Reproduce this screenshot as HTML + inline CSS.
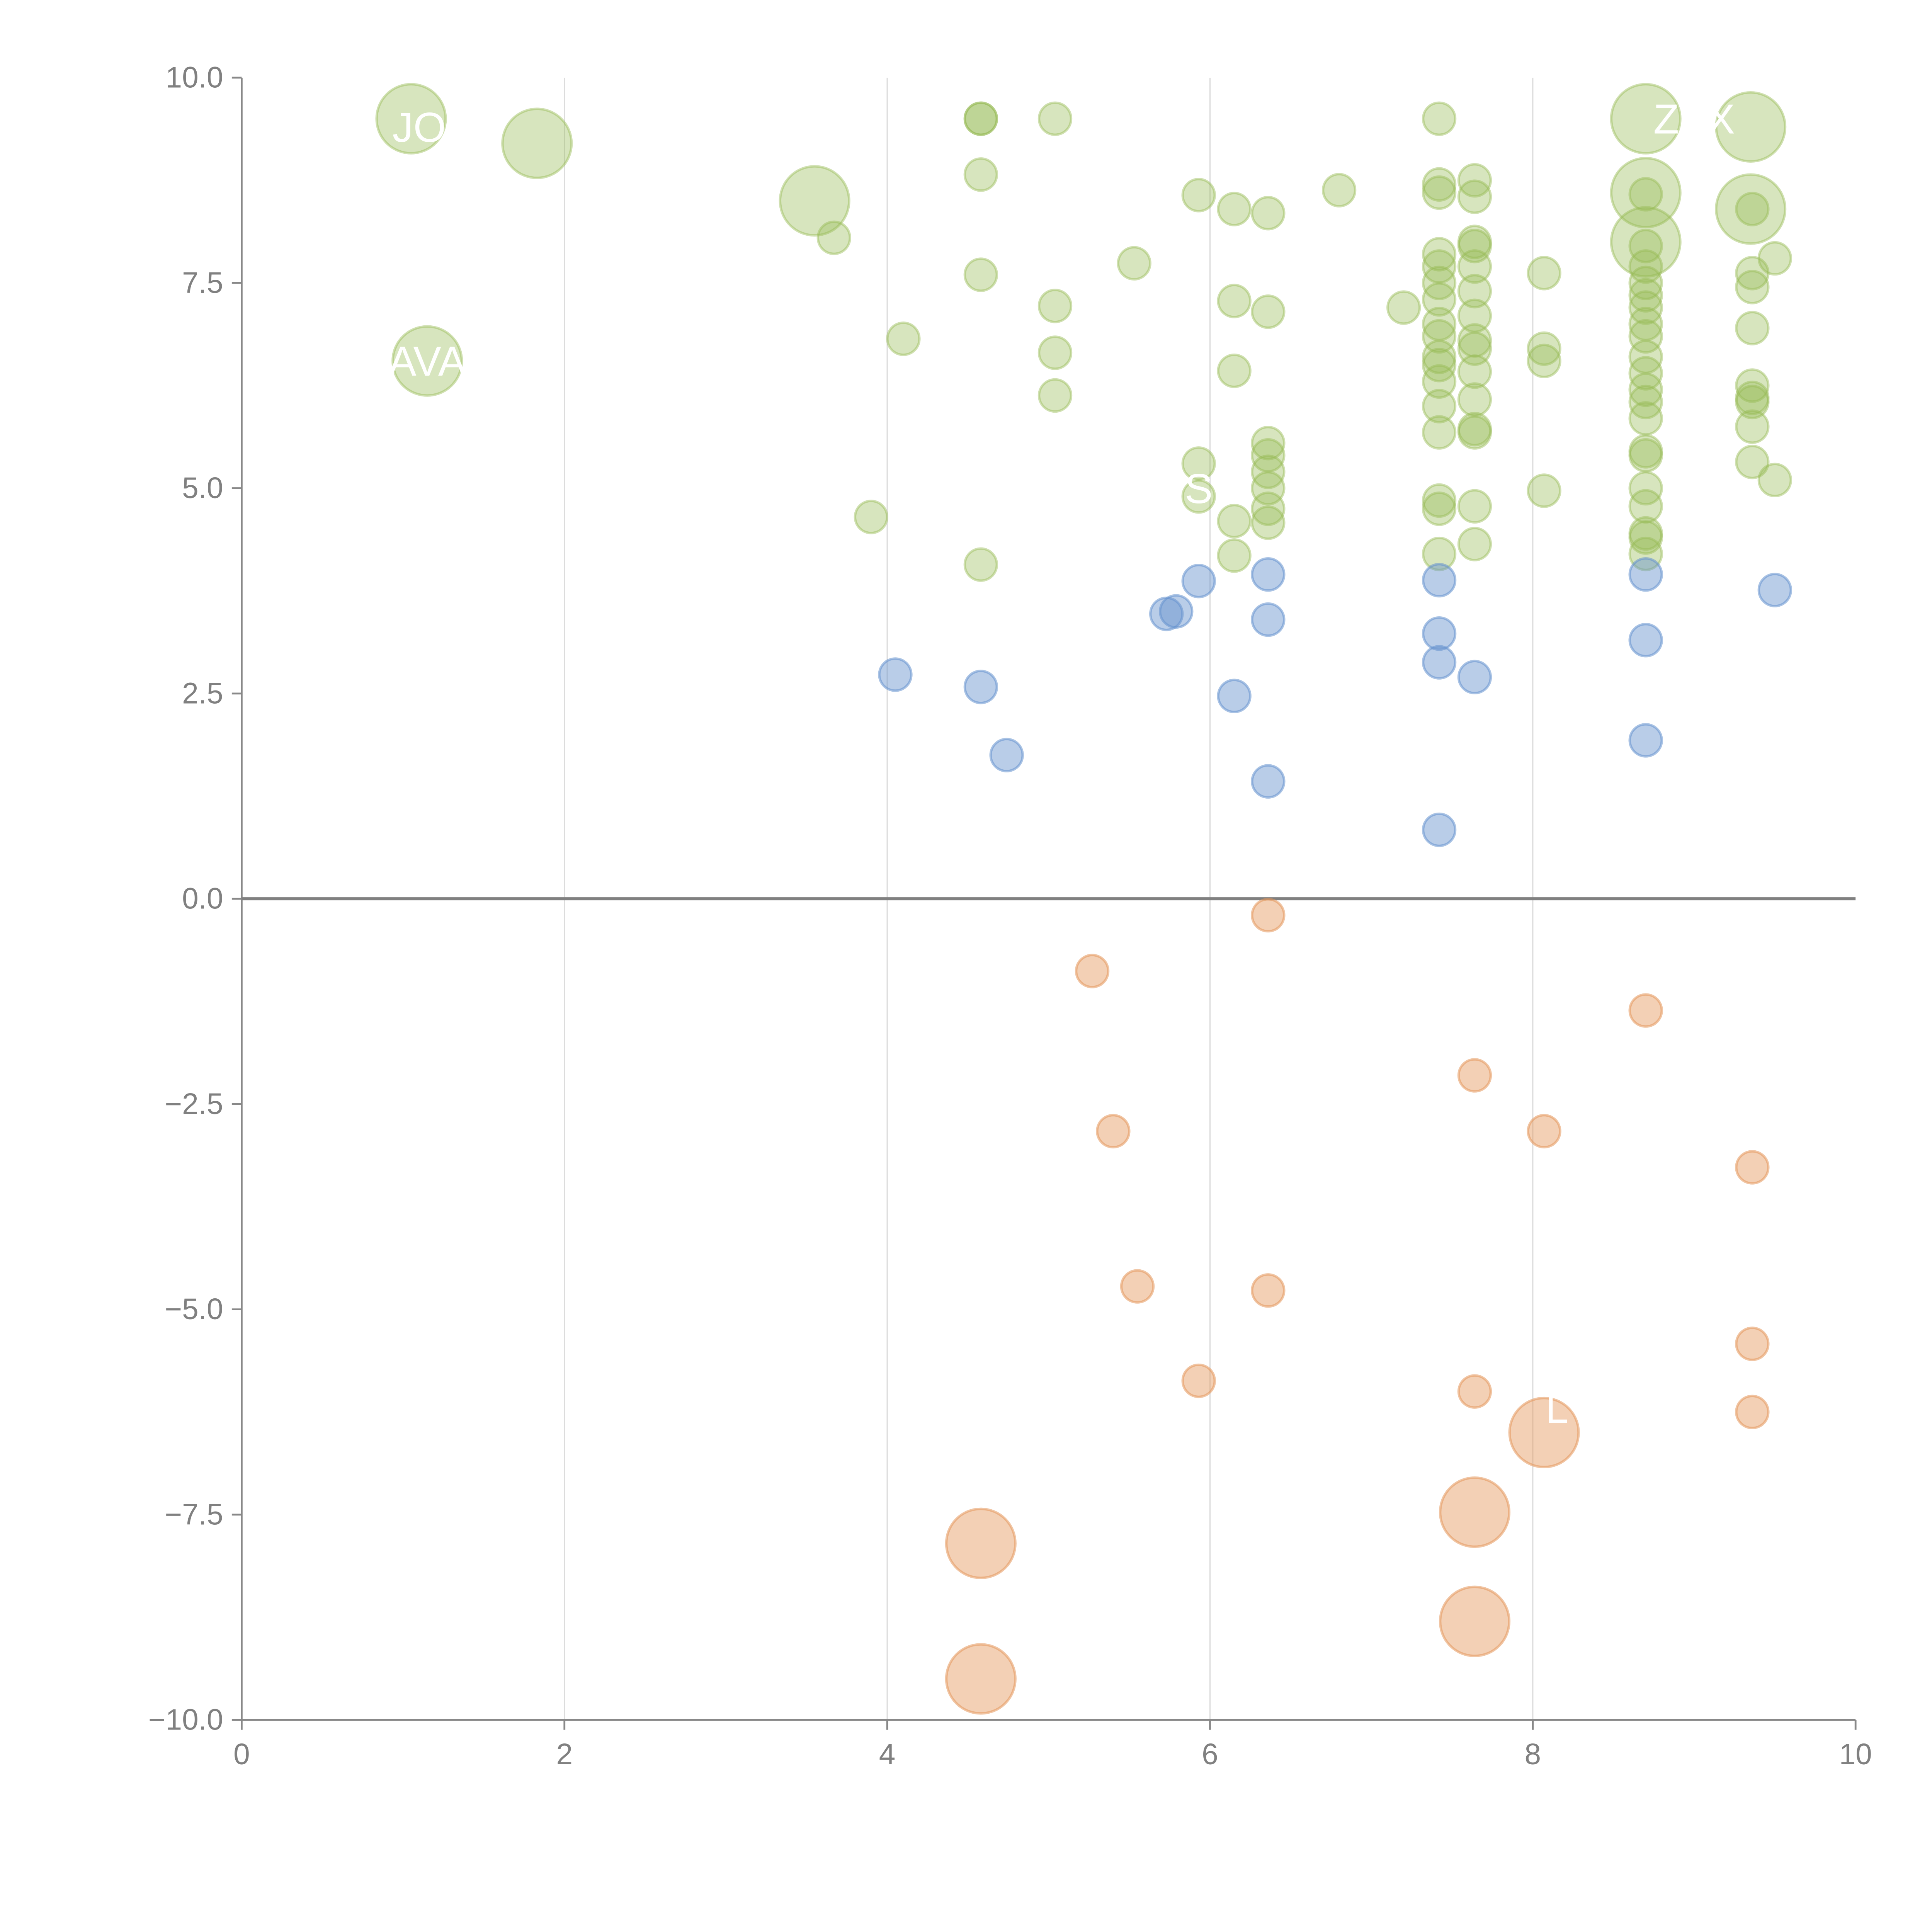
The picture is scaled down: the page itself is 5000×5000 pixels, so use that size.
<!DOCTYPE html>
<html><head><meta charset="utf-8"><style>html,body{margin:0;padding:0;background:#fff}svg{display:block}</style></head>
<body>
<svg id="chart" width="5000" height="5000" viewBox="0 0 1567 1567" xmlns="http://www.w3.org/2000/svg" font-family="'Liberation Sans', sans-serif">
<g id="grid"></g>
<g id="axes"></g>
<g id="marks"></g>
</svg>
<script>
const xTicks = [0,2,4,6,8,10];
const yTicks = [-10,-7.5,-5,-2.5,0,2.5,5,7.5,10];
const greenX = [1.05,1.83,1.15,3.55,8.7,9.35,8.7,9.35,8.7,3.67,3.9,4.1,4.58,4.58,4.58,4.58,4.58,5.04,5.04,5.04,5.04,5.53,5.93,5.93,5.93,6.15,6.15,6.15,6.15,6.15,6.36,6.36,6.36,6.36,6.36,6.36,6.36,6.36,6.8,7.2,7.42,7.42,7.42,7.42,7.42,7.42,7.42,7.42,7.42,7.42,7.42,7.42,7.42,7.42,7.42,7.42,7.42,7.64,7.64,7.64,7.64,7.64,7.64,7.64,7.64,7.64,7.64,7.64,7.64,7.64,7.64,7.64,8.07,8.07,8.07,8.07,8.7,8.7,8.7,8.7,8.7,8.7,8.7,8.7,8.7,8.7,8.7,8.7,8.7,8.7,8.7,8.7,8.7,8.7,8.7,8.7,9.36,9.36,9.36,9.36,9.36,9.36,9.36,9.36,9.36,9.5,9.5];
const greenY = [9.5,9.2,6.55,8.5,9.5,9.4,8.6,8.4,8.0,8.05,4.65,6.82,9.5,9.5,8.82,7.6,4.07,9.5,7.22,6.65,6.13,7.74,8.57,5.3,4.9,8.4,7.28,6.43,4.6,4.18,8.35,7.15,5.55,5.4,5.2,5.0,4.75,4.58,8.63,7.2,9.5,8.7,8.6,7.85,7.7,7.5,7.3,7.0,6.85,6.6,6.5,6.3,6.0,5.68,4.85,4.75,4.2,8.75,8.55,8.0,7.95,7.7,7.4,7.1,6.8,6.7,6.42,6.08,5.72,5.68,4.78,4.32,7.62,6.7,6.55,4.97,8.58,7.95,7.7,7.5,7.35,7.2,7.0,6.85,6.6,6.4,6.2,6.05,5.85,5.45,5.4,5.0,4.78,4.45,4.4,4.2,8.4,7.62,7.45,6.95,6.25,6.1,6.05,5.75,5.32,7.8,5.1];
const greenBig = 9;
const blueX = [4.05,4.58,4.74,5.73,5.79,5.93,6.15,6.36,6.36,6.36,7.42,7.42,7.42,7.42,7.64,8.7,8.7,8.7,9.5];
const blueY = [2.73,2.58,1.75,3.47,3.5,3.87,2.47,3.95,3.4,1.43,3.88,3.23,2.88,0.84,2.7,3.95,3.15,1.93,3.76];
const orangeX = [8.07,7.64,4.58,7.64,4.58,6.36,5.27,8.7,7.64,5.4,8.07,9.36,5.55,6.36,9.36,5.93,7.64,9.36];
const orangeY = [-6.5,-7.47,-7.85,-8.8,-9.5,-0.2,-0.88,-1.36,-2.15,-2.83,-2.83,-3.27,-4.72,-4.77,-5.42,-5.87,-6.0,-6.25];
const orangeBig = 5;

const NS = "http://www.w3.org/2000/svg";
const X0=196, X1=1505, Y0=1395, Y1=63;
const sx = v => X0 + (v-0)/(10-0)*(X1-X0);
const sy = v => Y0 - (v+10)/20*(Y0-Y1);
function mk(tag, attrs, parent){const e=document.createElementNS(NS,tag);for(const k in attrs)e.setAttribute(k,attrs[k]);parent.appendChild(e);return e;}
const grid=document.getElementById('grid'), axes=document.getElementById('axes'), marks=document.getElementById('marks');

xTicks.forEach(t=>{
  if(t>0&&t<10){const g=mk('line',{x1:sx(t),x2:sx(t),y1:Y1,y2:Y0,stroke:'#dcdcdc','stroke-width':1},grid);
  
  }
  const tk=mk('line',{x1:sx(t),x2:sx(t),y1:Y0,y2:Y0+8,stroke:'#888','stroke-width':1.5},axes);
  
  
  const tx=mk('text',{x:sx(t),y:Y0+36,'text-anchor':'middle','font-size':24,fill:'#808080'},axes);
  
  
  tx.textContent=t;
});
yTicks.forEach(t=>{
  const tk=mk('line',{x1:X0-8,x2:X0,y1:sy(t),y2:sy(t),stroke:'#888','stroke-width':1.5},axes);
  
  
  const tx=mk('text',{x:X0-15,y:sy(t)+8,'text-anchor':'end','font-size':24,fill:'#808080'},axes);
  
  
  tx.textContent=t.toFixed(1).replace('-','\u2212');
});
const ya=mk('line',{x1:X0,x2:X0,y1:Y1,y2:Y0,stroke:'#888','stroke-width':1.5},axes);


const xa=mk('line',{x1:X0,x2:X1,y1:Y0,y2:Y0,stroke:'#888','stroke-width':1.5},axes);


const zl=mk('line',{x1:X0,x2:X1,y1:sy(0),y2:sy(0),stroke:'#808080','stroke-width':2.5},axes);



function series(xs,ys,big,fill,stroke,name){
  xs.forEach((x,i)=>{
    const c=mk('circle',{cx:sx(x),cy:sy(ys[i]),r:i<big?28:13,fill:fill,stroke:stroke,'stroke-width':2},marks);
    
    
  });
}
series(greenX,greenY,greenBig,'rgba(151,187,84,0.38)','rgba(151,187,84,0.45)','green-bubble');
series(blueX,blueY,0,'rgba(100,145,205,0.45)','rgba(100,145,205,0.55)','blue-bubble');
series(orangeX,orangeY,orangeBig,'rgba(228,150,90,0.45)','rgba(228,150,90,0.55)','orange-bubble');

const labels=[["JO",1.1,9.4],["AVA",1.15,6.55],["S",5.93,5.0],["ZAX",9.0,9.5],["L",8.15,-6.2],["AN",8.0,-9.2]];
labels.forEach(l=>{
  const t=mk('text',{x:sx(l[1]),y:sy(l[2])+12,'text-anchor':'middle','font-size':34,fill:'#fff'},marks);
  
  
  t.textContent=l[0];
});
</script>
</body></html>
